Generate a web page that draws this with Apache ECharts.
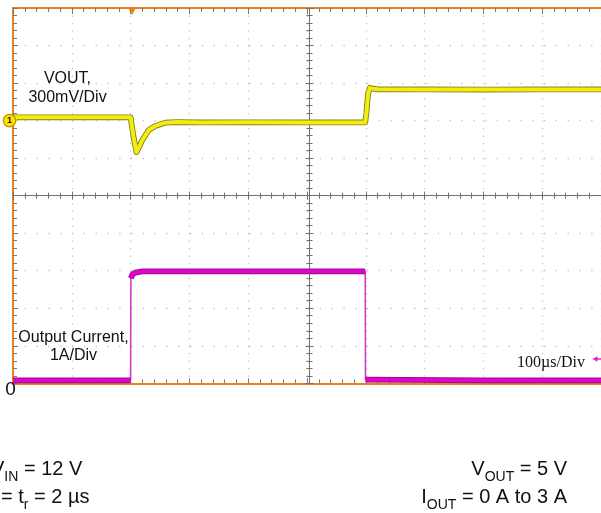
<!DOCTYPE html>
<html>
<head>
<meta charset="utf-8">
<script src="https://cdn.jsdelivr.net/npm/echarts@6/dist/echarts.min.js"></script>
<style>
html, body { margin: 0; padding: 0; background: #fff; }
#app { width: 601px; height: 513px; }
</style>
</head>
<body>
<div id="app"></div>
<script>
// scope capture: 100 us/Div, 10 divisions
// VOUT (ch1) in mV relative to channel marker, 300 mV/Div
var voutTime = [0, 100, 200, 201, 205, 210, 215, 220, 231, 242, 259, 279, 320, 400, 500, 599, 601, 604, 607, 612, 620, 700, 800, 900, 1000];
var voutMv = [26, 26, 26, 20, -130, -252, -205, -155, -75, -43, -17, -12, -15, -14, -15, -15, 60, 220, 262, 255, 250, 249, 248, 249, 249];
// output current (ch2) in A, 1 A/Div
var ioutTime = [0, 200, 200.5, 203, 208, 220, 400, 599, 599.5, 602, 800, 1000];
var ioutAmp = [0.08, 0.08, 2.8, 2.9, 2.95, 2.98, 2.98, 2.98, 0.1, 0.08, 0.08, 0.08];

var orange = '#e8801e';
var tickGray = '#7a7a7a';
var sans = 'Liberation Sans, Arial, sans-serif';
var serif = 'Liberation Serif, Times New Roman, serif';

function pairs(xs, ys) {
    return xs.map(function (x, i) { return [x, ys[i]]; });
}
// thick noisy band only on the flat parts, fast edges stay thin
function bandOnly(xs, ys) {
    var out = [];
    for (var i = 0; i < xs.length; i++) {
        if (i > 0 && xs[i] - xs[i - 1] <= 1 && Math.abs(ys[i] - ys[i - 1]) > 1) out.push('-');
        out.push([xs[i], ys[i]]);
    }
    return out;
}

var myChart = echarts.init(document.getElementById('app'));

var gridTop = 8, gridH = 375.3, gridLeft = 13, gridW = 593;

var condRich = {
    m: { fontSize: 20, fontFamily: sans, fill: '#111', lineHeight: 30 },
    s: { fontSize: 14, fontFamily: sans, fill: '#111', verticalAlign: 'bottom' }
};

myChart.setOption({
    animation: false,
    backgroundColor: '#fff',
    grid: { left: gridLeft, top: gridTop, width: gridW, height: gridH },
    xAxis: [
        {   // bottom border + vertical dotted grid
            type: 'value', min: 0, max: 1000, interval: 100, position: 'bottom',
            axisLine: { onZero: false, lineStyle: { color: orange, width: 2 } },
            axisTick: { inside: true, length: 5, lineStyle: { color: tickGray } },
            minorTick: { show: true, splitNumber: 5, length: 4, lineStyle: { color: tickGray } },
            axisLabel: { show: false },
            splitLine: { show: true, lineStyle: { color: '#c2c2c2', width: 1.3, type: [1.3, 6.2] } }
        },
        {   // top border
            type: 'value', min: 0, max: 1000, interval: 100, position: 'top',
            axisLine: { onZero: false, lineStyle: { color: orange, width: 2 } },
            axisTick: { inside: true, length: 6, lineStyle: { color: tickGray } },
            minorTick: { show: true, splitNumber: 5, length: 4, lineStyle: { color: tickGray } },
            axisLabel: { show: false },
            splitLine: { show: false }
        },
        {   // centre horizontal line, ticks up
            type: 'value', min: 0, max: 1000, interval: 100, position: 'bottom', offset: -gridH / 2,
            axisLine: { onZero: false, lineStyle: { color: '#707070', width: 1 } },
            axisTick: { inside: true, length: 4, lineStyle: { color: '#707070' } },
            minorTick: { show: true, splitNumber: 5, length: 3, lineStyle: { color: '#707070' } },
            axisLabel: { show: false },
            splitLine: { show: false }
        },
        {   // centre horizontal line, ticks down
            type: 'value', min: 0, max: 1000, interval: 100, position: 'bottom', offset: -gridH / 2,
            axisLine: { show: false, onZero: false },
            axisTick: { inside: false, length: 4, lineStyle: { color: '#707070' } },
            minorTick: { show: true, splitNumber: 5, length: 3, lineStyle: { color: '#707070' } },
            axisLabel: { show: false },
            splitLine: { show: false }
        }
    ],
    yAxis: [
        {   // left border + horizontal dotted grid, in divisions
            type: 'value', min: 0, max: 10, interval: 1, position: 'left',
            axisLine: { onZero: false, lineStyle: { color: orange, width: 2 } },
            axisTick: { inside: true, length: 5, lineStyle: { color: tickGray } },
            minorTick: { show: true, splitNumber: 5, length: 4, lineStyle: { color: tickGray } },
            axisLabel: { show: false },
            splitLine: { show: true, lineStyle: { color: '#c2c2c2', width: 1.3, type: [1.3, 10.5] } }
        },
        {   // centre vertical line, ticks right
            type: 'value', min: 0, max: 10, interval: 1, position: 'left', offset: gridLeft - (gridLeft + gridW / 2),
            axisLine: { onZero: false, lineStyle: { color: '#707070', width: 1 } },
            axisTick: { inside: true, length: 4, lineStyle: { color: '#707070' } },
            minorTick: { show: true, splitNumber: 5, length: 3, lineStyle: { color: '#707070' } },
            axisLabel: { show: false },
            splitLine: { show: false }
        },
        {   // centre vertical line, ticks left
            type: 'value', min: 0, max: 10, interval: 1, position: 'left', offset: gridLeft - (gridLeft + gridW / 2),
            axisLine: { show: false, onZero: false },
            axisTick: { inside: false, length: 4, lineStyle: { color: '#707070' } },
            minorTick: { show: true, splitNumber: 5, length: 3, lineStyle: { color: '#707070' } },
            axisLabel: { show: false },
            splitLine: { show: false }
        },
        // VOUT: 300 mV/Div, marker 2 div above centre
        { type: 'value', min: -2100, max: 900, show: false },
        // IOUT: 1 A/Div, zero at bottom
        { type: 'value', min: 0, max: 10, show: false }
    ],
    series: [
        {
            name: 'IOUT edge', type: 'line', xAxisIndex: 0, yAxisIndex: 4,
            data: pairs(ioutTime, ioutAmp), showSymbol: false, silent: true,
            lineStyle: { color: '#d23ad0', width: 1.6 }, z: 3
        },
        {
            name: 'IOUT dark', type: 'line', xAxisIndex: 0, yAxisIndex: 4,
            data: bandOnly(ioutTime, ioutAmp), showSymbol: false, silent: true,
            lineStyle: { color: '#8a1684', width: 5.8 }, z: 3
        },
        {
            name: 'IOUT', type: 'line', xAxisIndex: 0, yAxisIndex: 4,
            data: bandOnly(ioutTime, ioutAmp), showSymbol: false, silent: true,
            lineStyle: { color: '#e400d6', width: 3.8 }, z: 4
        },
        {
            name: 'VOUT dark', type: 'line', xAxisIndex: 0, yAxisIndex: 3,
            data: pairs(voutTime, voutMv), showSymbol: false, silent: true,
            lineStyle: { color: '#85801c', width: 5.8, join: 'round' }, z: 5
        },
        {
            name: 'VOUT', type: 'line', xAxisIndex: 0, yAxisIndex: 3,
            data: pairs(voutTime, voutMv), showSymbol: false, silent: true,
            lineStyle: { color: '#f2ed0c', width: 4, join: 'round' }, z: 6
        }
    ],
    graphic: [
        // trigger position marker
        { type: 'polygon', shape: { points: [[127.5, 7], [136.5, 7], [132, 15]] }, style: { fill: orange }, z: 20 },
        // channel 1 marker
        { type: 'polygon', shape: { points: [[13, 116.3], [18, 120.6], [13, 124.9]] }, style: { fill: '#f4e600' }, z: 20 },
        { type: 'circle', shape: { cx: 9.5, cy: 120.6, r: 6.2 }, style: { fill: '#f7e600', stroke: '#d48a00', lineWidth: 1.3 }, z: 21 },
        { type: 'text', x: 9.5, y: 121, style: { text: '1', fontSize: 9, fontWeight: 'bold', fontFamily: sans, fill: '#222', align: 'center', verticalAlign: 'middle' }, z: 22 },
        // channel 2 ground label
        { type: 'text', x: 10.5, y: 389.5, style: { text: '0', fontSize: 19, fontFamily: sans, fill: '#111', align: 'center', verticalAlign: 'middle' }, z: 20 },
        // in-plot annotations
        { type: 'text', x: 67.5, y: 78.5, style: { text: 'VOUT,', fontSize: 16, fontFamily: sans, fill: '#111', align: 'center', verticalAlign: 'middle' }, z: 20 },
        { type: 'text', x: 67.5, y: 97.5, style: { text: '300mV/Div', fontSize: 16, fontFamily: sans, fill: '#111', align: 'center', verticalAlign: 'middle' }, z: 20 },
        { type: 'text', x: 73.5, y: 338, style: { text: 'Output Current,', fontSize: 16, fontFamily: sans, fill: '#111', align: 'center', verticalAlign: 'middle' }, z: 20 },
        { type: 'text', x: 73.5, y: 356, style: { text: '1A/Div', fontSize: 16, fontFamily: sans, fill: '#111', align: 'center', verticalAlign: 'middle' }, z: 20 },
        { type: 'text', x: 585, y: 362.5, style: { text: '100\u00b5s/Div', fontSize: 16, fontFamily: serif, fill: '#111', align: 'right', verticalAlign: 'middle' }, z: 20 },
        // horizontal position arrow
        { type: 'line', shape: { x1: 596, y1: 359, x2: 601, y2: 359 }, style: { stroke: '#e020d8', lineWidth: 1.5 }, z: 20 },
        { type: 'polygon', shape: { points: [[592.5, 359], [597.5, 356.3], [597.5, 361.7]] }, style: { fill: '#e020d8' }, z: 20 },
        // test conditions below the capture
        {
            type: 'text', x: -9, y: 469,
            style: { text: '{m|V}{s|IN}{m| = 12 V}', align: 'left', verticalAlign: 'middle', rich: condRich }
        },
        {
            type: 'text', x: -14, y: 497,
            style: { text: '{m|t}{s|f}{m| = t}{s|r}{m| = 2 \u00b5s}', align: 'left', verticalAlign: 'middle', rich: condRich }
        },
        {
            type: 'text', x: 567, y: 469,
            style: { text: '{m|V}{s|OUT}{m| = 5 V}', align: 'right', verticalAlign: 'middle', rich: condRich }
        },
        {
            type: 'text', x: 567, y: 497,
            style: { text: '{m|I}{s|OUT}{m| = 0 A to 3 A}', align: 'right', verticalAlign: 'middle', rich: condRich }
        }
    ]
});
</script>
</body>
</html>
